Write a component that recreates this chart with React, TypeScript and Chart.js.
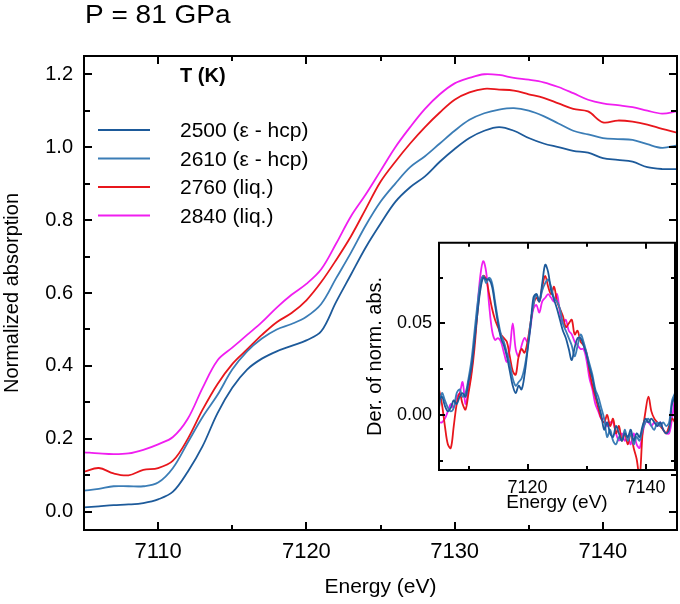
import { useEffect, useRef } from "react";
import { Chart, registerables } from "chart.js";
Chart.register(...registerables);

const FONT = '"Liberation Sans", Arial, Helvetica, sans-serif';

const TITLE = "P = 81 GPa";
const LEGEND_TITLE = "T (K)";
const SERIES_LABELS = ["2500 (ε - hcp)", "2610 (ε - hcp)", "2760 (liq.)", "2840 (liq.)"];
const SERIES_COLORS = ["#1d5a9a", "#3b7db6", "#e8161c", "#f01ef0"];

// Main panel: energy (eV) and normalized absorption
const ENERGY = [
  7105, 7106, 7107, 7108, 7109, 7110, 7111, 7112, 7113, 7114,
  7115, 7116, 7117, 7118, 7119, 7120, 7121, 7122, 7123, 7124,
  7125, 7126, 7127, 7128, 7129, 7130, 7131, 7132, 7133, 7134,
  7135, 7136, 7137, 7138, 7139, 7140, 7141, 7142, 7143, 7144, 7145,
];
const ABS_2500 = [
  0.012, 0.015, 0.018, 0.020, 0.024, 0.034, 0.055, 0.110, 0.180, 0.270,
  0.340, 0.390, 0.420, 0.440, 0.455, 0.470, 0.495, 0.575, 0.650, 0.725,
  0.790, 0.850, 0.890, 0.920, 0.960, 0.995, 1.025, 1.045, 1.055, 1.045,
  1.025, 1.010, 1.000, 0.990, 0.985, 0.970, 0.965, 0.960, 0.945, 0.940, 0.940,
];
const ABS_2610 = [
  0.058, 0.063, 0.070, 0.070, 0.070, 0.080, 0.120, 0.190, 0.260, 0.320,
  0.390, 0.440, 0.475, 0.500, 0.515, 0.535, 0.570, 0.640, 0.710, 0.785,
  0.850, 0.900, 0.945, 0.975, 1.010, 1.045, 1.075, 1.093, 1.103, 1.107,
  1.100, 1.085, 1.065, 1.045, 1.035, 1.025, 1.022, 1.020, 1.008, 0.998, 1.005,
];
const ABS_2760 = [
  0.110, 0.120, 0.105, 0.100, 0.115, 0.120, 0.140, 0.200, 0.280, 0.350,
  0.405, 0.445, 0.485, 0.520, 0.545, 0.580, 0.630, 0.690, 0.755, 0.830,
  0.905, 0.960, 1.010, 1.055, 1.095, 1.130, 1.150, 1.160, 1.158, 1.155,
  1.145, 1.135, 1.120, 1.105, 1.098, 1.068, 1.073, 1.070, 1.062, 1.050, 1.040,
];
const ABS_2840 = [
  0.163, 0.160, 0.158, 0.160, 0.170, 0.185, 0.205, 0.255, 0.340, 0.415,
  0.450, 0.485, 0.520, 0.560, 0.595, 0.625, 0.665, 0.735, 0.810, 0.870,
  0.935, 1.000, 1.055, 1.105, 1.145, 1.175, 1.190, 1.200, 1.198, 1.190,
  1.185, 1.178, 1.165, 1.148, 1.130, 1.120, 1.115, 1.110, 1.100, 1.092, 1.098,
];

const X_MIN = 7105, X_MAX = 7145, Y_MIN = -0.05, Y_MAX = 1.25;
const X_LABELS = [7110, 7120, 7130, 7140];
const X_MINOR = [7105, 7115, 7125, 7135, 7145];
const Y_LABELS = [0.0, 0.2, 0.4, 0.6, 0.8, 1.0, 1.2];
const Y_MINOR = [0.1, 0.3, 0.5, 0.7, 0.9, 1.1];

// Inset: derivative of normalized absorption
const DER_ENERGY = [
  7105.0, 7105.5, 7106.0, 7106.5, 7107.0, 7107.5, 7108.0, 7108.5, 7109.0, 7109.5,
  7110.0, 7110.5, 7111.0, 7111.5, 7112.0, 7112.5, 7113.0, 7113.5, 7114.0, 7114.5,
  7115.0, 7115.5, 7116.0, 7116.5, 7117.0, 7117.5, 7118.0, 7118.5, 7119.0, 7119.5,
  7120.0, 7120.5, 7121.0, 7121.5, 7122.0, 7122.5, 7123.0, 7123.5, 7124.0, 7124.5,
  7125.0, 7125.5, 7126.0, 7126.5, 7127.0, 7127.5, 7128.0, 7128.5, 7129.0, 7129.5,
  7130.0, 7130.5, 7131.0, 7131.5, 7132.0, 7132.5, 7133.0, 7133.5, 7134.0, 7134.5,
  7135.0, 7135.5, 7136.0, 7136.5, 7137.0, 7137.5, 7138.0, 7138.5, 7139.0, 7139.5,
  7140.0, 7140.5, 7141.0, 7141.5, 7142.0, 7142.5, 7143.0, 7143.5, 7144.0, 7144.5,
  7145.0,
];
const DER_2500 = [
  0.008, 0.010, 0.005, 0.002, 0.004, 0.008, 0.006, 0.010, 0.012, 0.010,
  0.018, 0.026, 0.040, 0.055, 0.068, 0.075, 0.074, 0.074, 0.070, 0.060,
  0.050, 0.042, 0.038, 0.032, 0.024, 0.016, 0.012, 0.016, 0.014, 0.022,
  0.035, 0.048, 0.064, 0.066, 0.062, 0.072, 0.082, 0.078, 0.068, 0.063,
  0.058, 0.052, 0.046, 0.042, 0.036, 0.030, 0.037, 0.042, 0.042, 0.038,
  0.033, 0.026, 0.020, 0.012, 0.006, 0.000, -0.008, -0.004, -0.010, -0.012,
  -0.006, -0.010, -0.014, -0.010, -0.012, -0.008, -0.014, -0.010, -0.012, -0.006,
  -0.002, -0.004, -0.002, -0.004, -0.006, -0.004, -0.008, -0.010, -0.008, 0.006,
  0.010,
];
const DER_2610 = [
  0.004, 0.012, 0.008, 0.004, 0.002, 0.004, 0.012, 0.014, 0.010, 0.012,
  0.020, 0.030, 0.045, 0.060, 0.072, 0.076, 0.072, 0.075, 0.072, 0.062,
  0.052, 0.044, 0.040, 0.034, 0.028, 0.020, 0.016, 0.018, 0.020, 0.026,
  0.036, 0.050, 0.060, 0.066, 0.062, 0.068, 0.072, 0.074, 0.070, 0.064,
  0.062, 0.058, 0.050, 0.046, 0.042, 0.038, 0.032, 0.038, 0.044, 0.040,
  0.034, 0.028, 0.022, 0.014, 0.010, 0.004, -0.002, -0.012, -0.008, -0.014,
  -0.016, -0.012, -0.014, -0.008, -0.014, -0.010, -0.016, -0.012, -0.014, -0.008,
  -0.004, -0.002, -0.006, -0.008, -0.004, -0.006, -0.004, -0.006, -0.004, 0.008,
  0.012,
];
const DER_2760 = [
  0.014, 0.006, -0.006, -0.016, -0.018, -0.006, 0.006, 0.012, 0.006, 0.003,
  0.012, 0.022, 0.036, 0.055, 0.070, 0.076, 0.074, 0.066, 0.058, 0.052,
  0.048, 0.044, 0.042, 0.040, 0.032, 0.024, 0.022, 0.032, 0.036, 0.034,
  0.040, 0.050, 0.060, 0.064, 0.062, 0.070, 0.076, 0.070, 0.066, 0.070,
  0.062, 0.058, 0.054, 0.048, 0.050, 0.052, 0.044, 0.046, 0.040, 0.038,
  0.034, 0.024, 0.016, 0.010, 0.004, -0.002, -0.004, 0.000, -0.006, -0.002,
  -0.010, -0.006, -0.014, -0.010, -0.016, -0.010, -0.018, -0.024, -0.034, -0.010,
  0.002, 0.010, 0.002, -0.002, -0.004, -0.006, -0.008, -0.010, -0.006, -0.002,
  -0.004,
];
const DER_2840 = [
  -0.004, -0.004, -0.002, 0.002, 0.006, 0.004, 0.010, 0.012, 0.018, 0.006,
  0.014, 0.024, 0.040, 0.058, 0.076, 0.084, 0.078, 0.060, 0.046, 0.041,
  0.042, 0.040, 0.034, 0.029, 0.036, 0.050, 0.036, 0.032, 0.038, 0.042,
  0.040, 0.048, 0.058, 0.060, 0.056, 0.062, 0.064, 0.066, 0.064, 0.062,
  0.066, 0.056, 0.050, 0.052, 0.046, 0.044, 0.040, 0.038, 0.036, 0.036,
  0.030, 0.020, 0.014, 0.006, 0.002, -0.002, -0.002, -0.006, -0.004, -0.004,
  -0.010, -0.014, -0.010, -0.014, -0.012, -0.016, -0.010, -0.016, -0.018, -0.010,
  -0.004, -0.004, -0.006, -0.004, -0.006, -0.004, -0.008, -0.010, -0.010, -0.002,
  0.010,
];
const IX_MIN = 7105, IX_MAX = 7145, IY_MIN = -0.03, IY_MAX = 0.094;
const IX_LABELS = [7120, 7140];
const IX_MINOR = [7110, 7130];
const IY_LABELS = [0.0, 0.05];
const IY_MINOR = [-0.025, 0.025, 0.075];

function pts(xs: number[], ys: number[]) {
  return xs.map((x, i) => ({ x, y: ys[i] }));
}

type FrameCfg = {
  xMajor: number[]; xMinor: number[]; yMajor: number[]; yMinor: number[];
  xMajLen: number; xMinLen: number; yMajLen: number; yMinLen: number; lw: number;
  white?: boolean;
};

function framePlugin(id: string, c: FrameCfg) {
  return {
    id,
    beforeDatasetsDraw(chart: any) {
      if (!c.white) return;
      const { ctx, chartArea: a } = chart;
      ctx.save();
      ctx.fillStyle = "#ffffff";
      ctx.fillRect(a.left, a.top, a.right - a.left, a.bottom - a.top);
      ctx.restore();
    },
    afterDatasetsDraw(chart: any) {
      const { ctx, chartArea: a, scales } = chart;
      const sx = scales.x, sy = scales.y;
      ctx.save();
      ctx.strokeStyle = "#000";
      ctx.lineWidth = c.lw;
      ctx.lineCap = "butt";
      ctx.beginPath();
      const xt = (vals: number[], len: number) => {
        vals.forEach((v) => {
          const p = Math.round(sx.getPixelForValue(v));
          if (p <= a.left + 1 || p >= a.right - 1) return;
          ctx.moveTo(p, a.bottom); ctx.lineTo(p, a.bottom - len);
          ctx.moveTo(p, a.top); ctx.lineTo(p, a.top + len);
        });
      };
      const yt = (vals: number[], len: number) => {
        vals.forEach((v) => {
          const p = Math.round(sy.getPixelForValue(v));
          if (p <= a.top + 1 || p >= a.bottom - 1) return;
          ctx.moveTo(a.left, p); ctx.lineTo(a.left + len, p);
          ctx.moveTo(a.right, p); ctx.lineTo(a.right - len, p);
        });
      };
      xt(c.xMajor, c.xMajLen); xt(c.xMinor, c.xMinLen);
      yt(c.yMajor, c.yMajLen); yt(c.yMinor, c.yMinLen);
      ctx.stroke();
      ctx.beginPath();
      ctx.rect(a.left, a.top, a.right - a.left, a.bottom - a.top);
      ctx.stroke();
      ctx.restore();
    },
  };
}

const decorPlugin = {
  id: "decor",
  afterDraw(chart: any) {
    const ctx = chart.ctx;
    ctx.save();
    ctx.fillStyle = "#000";
    ctx.textBaseline = "alphabetic";
    // title
    ctx.save();
    ctx.translate(85, 23);
    ctx.scale(1.12, 1);
    ctx.font = `25px ${FONT}`;
    ctx.fillText(TITLE, 0, 0);
    ctx.restore();
    // legend
    ctx.font = `bold 20px ${FONT}`;
    ctx.fillText(LEGEND_TITLE, 180, 82);
    ctx.font = `21px ${FONT}`;
    const base = [137, 165.5, 194, 222.5];
    SERIES_LABELS.forEach((lab, i) => {
      ctx.strokeStyle = SERIES_COLORS[i];
      ctx.lineWidth = 1.8;
      ctx.beginPath();
      ctx.moveTo(98, base[i] - 7);
      ctx.lineTo(150, base[i] - 7);
      ctx.stroke();
      ctx.fillText(lab, 180, base[i]);
    });
    ctx.restore();
  },
};

export default function App() {
  const mainRef = useRef<HTMLCanvasElement | null>(null);
  const insetRef = useRef<HTMLCanvasElement | null>(null);

  useEffect(() => {
    document.body.style.margin = "0";
    const series = [ABS_2500, ABS_2610, ABS_2760, ABS_2840];
    const main = new Chart(mainRef.current as HTMLCanvasElement, {
      type: "line",
      data: {
        datasets: series.map((s, i) => ({
          label: SERIES_LABELS[i],
          data: pts(ENERGY, s),
          borderColor: SERIES_COLORS[i],
          borderWidth: 1.8,
          pointRadius: 0,
          tension: 0.35,
          fill: false,
        })),
      },
      options: {
        responsive: false,
        animation: false,
        events: [],
        layout: { padding: { left: 0, right: 3, top: 56, bottom: 0 } },
        plugins: { legend: { display: false }, tooltip: { enabled: false }, title: { display: false } },
        scales: {
          x: {
            type: "linear",
            min: X_MIN,
            max: X_MAX,
            afterBuildTicks: (s: any) => { s.ticks = X_LABELS.map((v) => ({ value: v })); },
            afterFit: (s: any) => { s.height = 74; },
            grid: { display: false, drawTicks: false },
            border: { display: false },
            ticks: { padding: 9, color: "#000", font: { family: FONT, size: 22 }, callback: (v: any) => String(v), maxRotation: 0 },
            title: { display: true, text: "Energy (eV)", color: "#000", font: { family: FONT, size: 21 }, padding: { top: 0, bottom: 4 } },
          },
          y: {
            type: "linear",
            min: Y_MIN,
            max: Y_MAX,
            afterBuildTicks: (s: any) => { s.ticks = Y_LABELS.map((v) => ({ value: v })); },
            afterFit: (s: any) => { s.width = 84; },
            grid: { display: false, drawTicks: false },
            border: { display: false },
            ticks: { padding: 11, color: "#000", font: { family: FONT, size: 20 }, callback: (v: any) => Number(v).toFixed(1) },
            title: { display: true, text: "Normalized absorption", color: "#000", font: { family: FONT, size: 20 }, padding: { top: 0, bottom: 0 } },
          },
        },
      },
      plugins: [
        framePlugin("mainFrame", { xMajor: X_LABELS, xMinor: X_MINOR, yMajor: Y_LABELS, yMinor: Y_MINOR, xMajLen: 8, xMinLen: 5, yMajLen: 8, yMinLen: 6, lw: 2 }),
        decorPlugin,
      ],
    } as any);

    const dseries = [DER_2500, DER_2610, DER_2760, DER_2840];
    const inset = new Chart(insetRef.current as HTMLCanvasElement, {
      type: "line",
      data: {
        datasets: dseries.map((s, i) => ({
          label: SERIES_LABELS[i],
          data: pts(DER_ENERGY, s),
          borderColor: SERIES_COLORS[i],
          borderWidth: 1.8,
          pointRadius: 0,
          tension: 0.35,
          fill: false,
        })),
      },
      options: {
        responsive: false,
        animation: false,
        events: [],
        layout: { padding: { left: 0, right: 5, top: 9, bottom: 0 } },
        plugins: { legend: { display: false }, tooltip: { enabled: false }, title: { display: false } },
        scales: {
          x: {
            type: "linear",
            min: IX_MIN,
            max: IX_MAX,
            afterBuildTicks: (s: any) => { s.ticks = IX_LABELS.map((v) => ({ value: v })); },
            afterFit: (s: any) => { s.height = 50; },
            grid: { display: false, drawTicks: false },
            border: { display: false },
            ticks: { padding: 7, color: "#000", font: { family: FONT, size: 18 }, callback: (v: any) => String(v), maxRotation: 0 },
            title: { display: true, text: "Energy (eV)", color: "#000", font: { family: FONT, size: 19 }, padding: { top: 0, bottom: 6 } },
          },
          y: {
            type: "linear",
            min: IY_MIN,
            max: IY_MAX,
            afterBuildTicks: (s: any) => { s.ticks = IY_LABELS.map((v) => ({ value: v })); },
            afterFit: (s: any) => { s.width = 89; },
            grid: { display: false, drawTicks: false },
            border: { display: false },
            ticks: { padding: 7, color: "#000", font: { family: FONT, size: 18 }, callback: (v: any) => Number(v).toFixed(2) },
            title: { display: true, text: "Der. of norm. abs.", color: "#000", font: { family: FONT, size: 20 }, padding: { top: 13, bottom: 0 } },
          },
        },
      },
      plugins: [
        framePlugin("insetFrame", { xMajor: IX_LABELS, xMinor: IX_MINOR, yMajor: IY_LABELS, yMinor: IY_MINOR, xMajLen: 6, xMinLen: 4, yMajLen: 6, yMinLen: 4, lw: 2, white: true }),
      ],
    } as any);

    return () => {
      main.destroy();
      inset.destroy();
    };
  }, []);

  return (
    <div style={{ position: "relative", width: 680, height: 604, background: "#fff" }}>
      <canvas ref={mainRef} width={680} height={604} style={{ position: "absolute", left: 0, top: 0 }} />
      <canvas ref={insetRef} width={330} height={295} style={{ position: "absolute", left: 350, top: 225 }} />
    </div>
  );
}
